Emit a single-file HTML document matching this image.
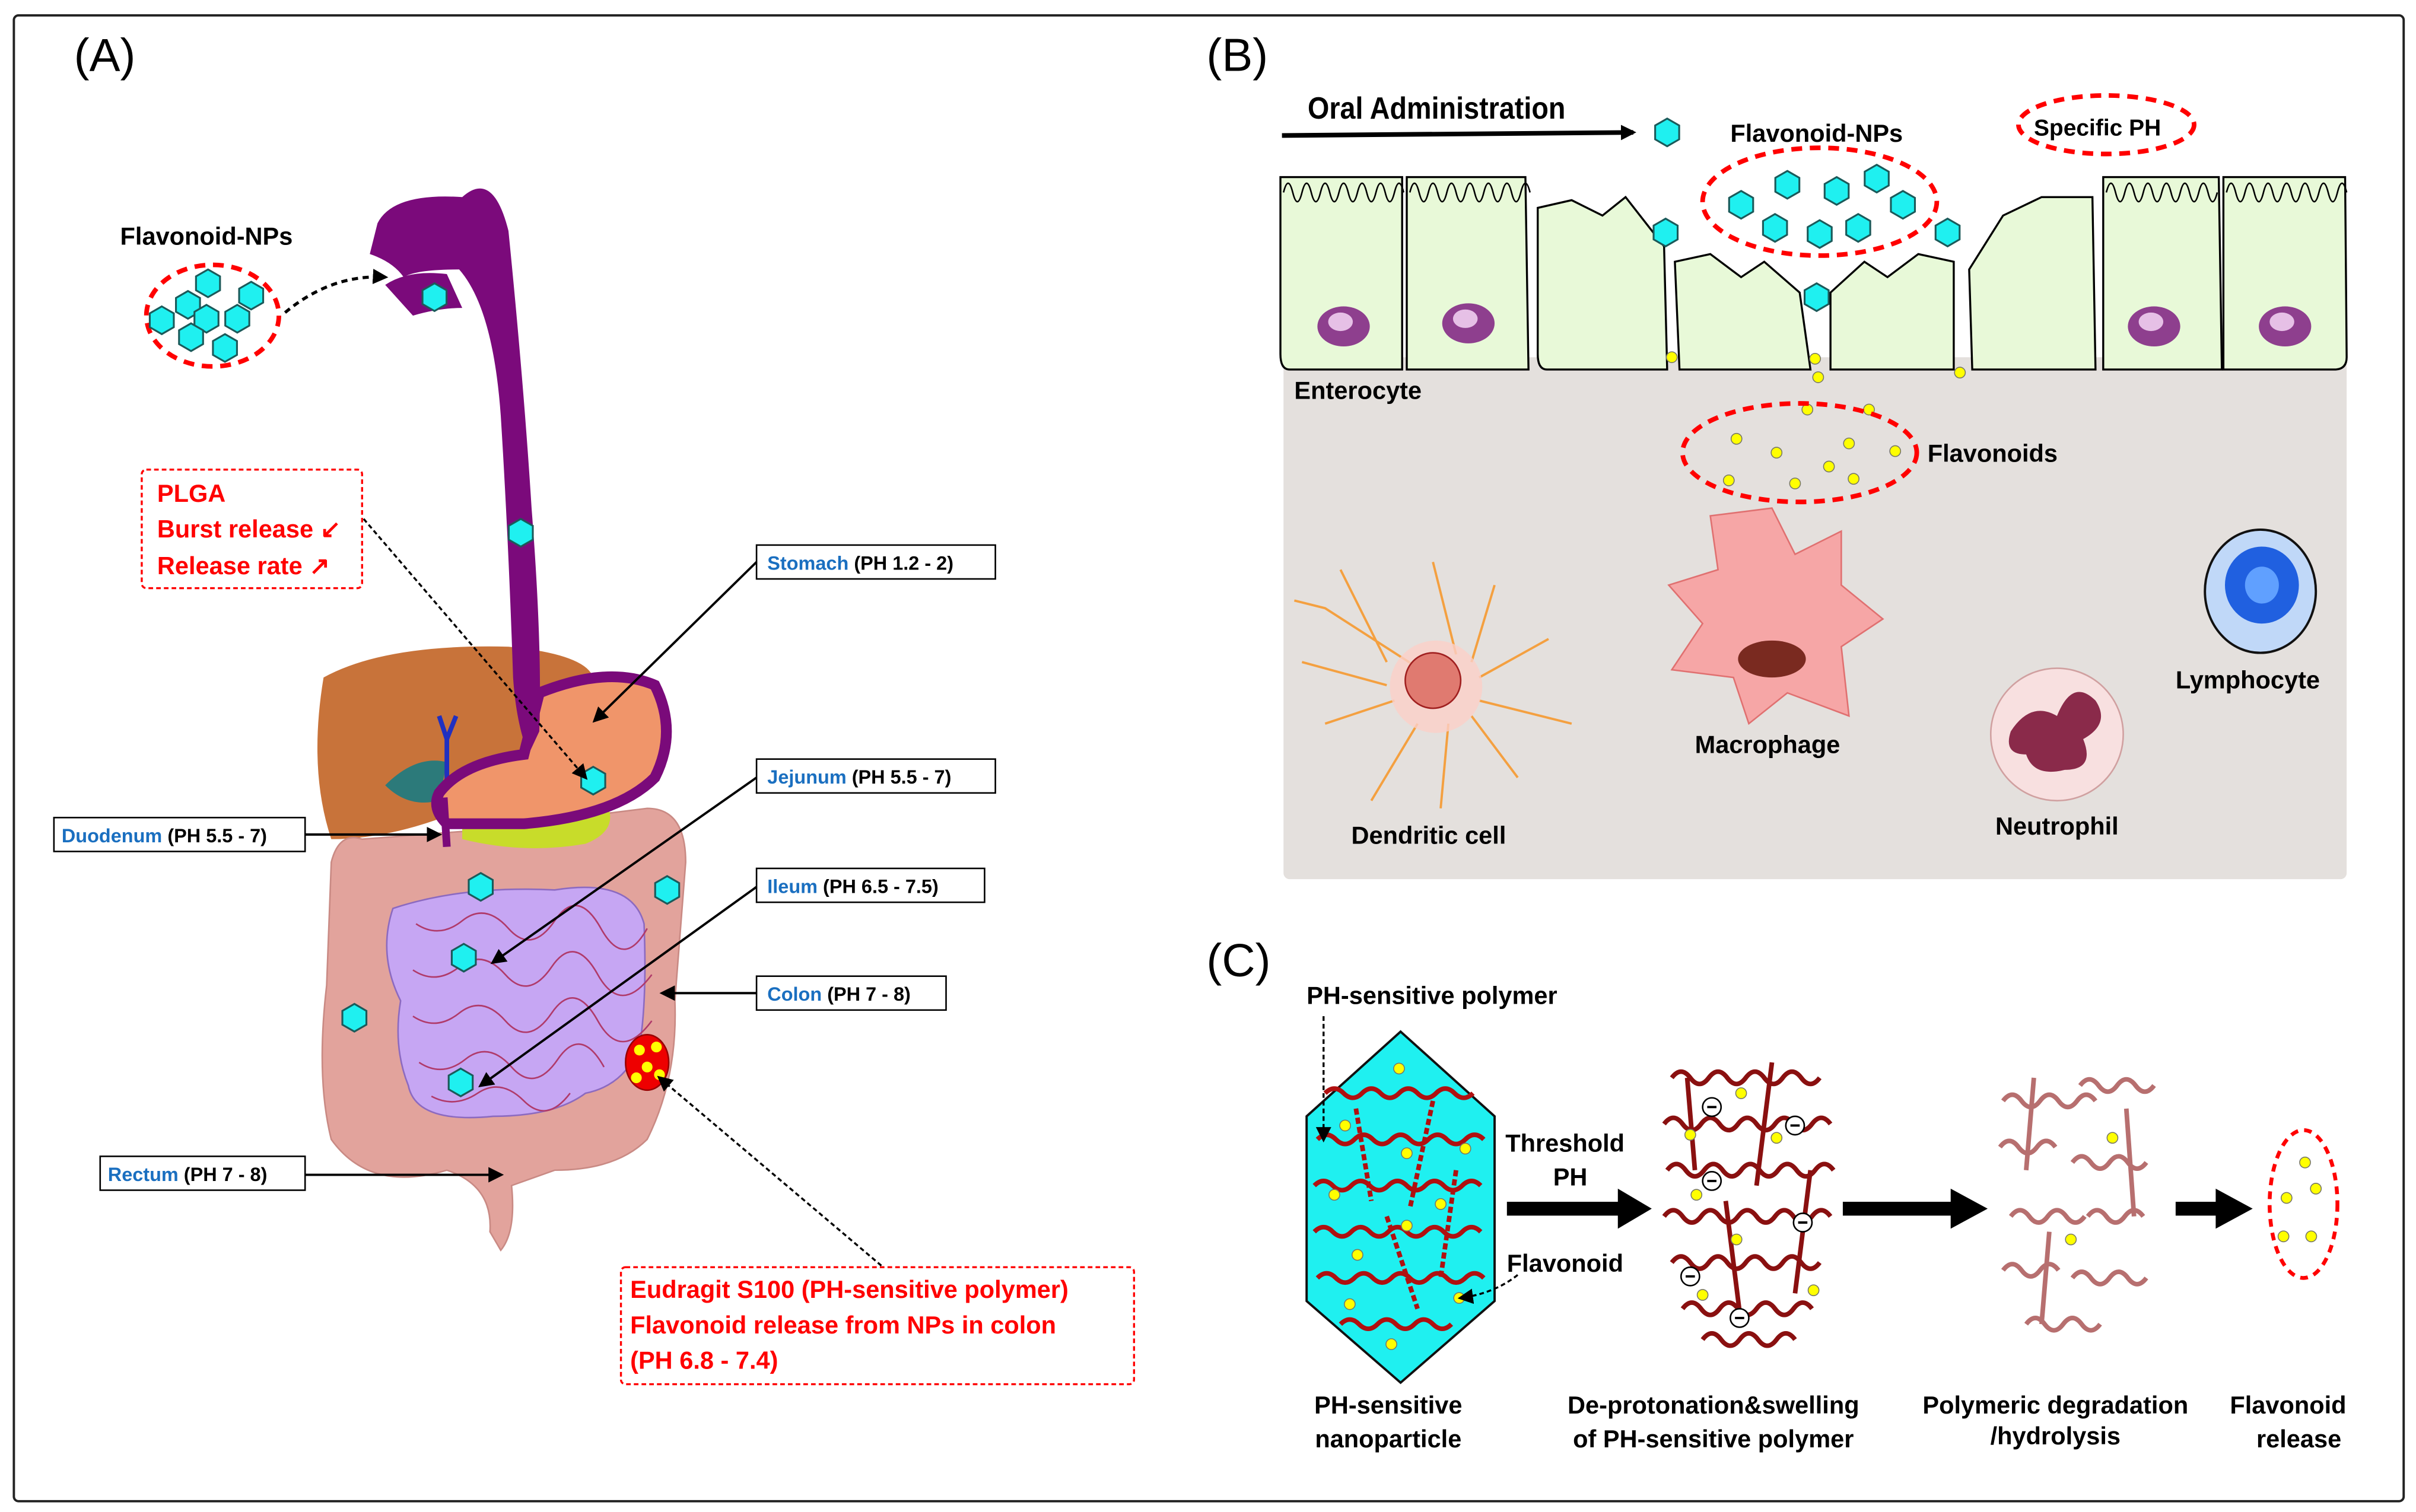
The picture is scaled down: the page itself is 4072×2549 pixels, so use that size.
<!DOCTYPE html>
<html><head><meta charset="utf-8"><style>html,body{margin:0;padding:0;background:#fff}svg{display:block}text{font-family:"Liberation Sans",sans-serif;font-weight:bold}</style></head><body>
<svg width="4072" height="2549" viewBox="0 0 1568 982" preserveAspectRatio="none" xmlns="http://www.w3.org/2000/svg">
<defs>
<symbol id="hx" viewBox="-10 -10 20 20" overflow="visible"><polygon points="0,-9 7.8,-4.5 7.8,4.5 0,9 -7.8,4.5 -7.8,-4.5" fill="#1ff0f0" stroke="#1b5a5a" stroke-width="1.2"/></symbol>
<marker id="ah" markerWidth="10" markerHeight="10" refX="8" refY="5" orient="auto" markerUnits="userSpaceOnUse"><path d="M0,0 L10,5 L0,10 z" fill="#000"/></marker>
</defs>
<rect x="0" y="0" width="1568" height="982" fill="#fff"/>
<rect x="9" y="10" width="1551" height="965" fill="none" stroke="#222" stroke-width="1.5" rx="3"/>

<!-- ===== PANEL A ===== -->
<text x="48" y="46" font-size="30" font-weight="normal" style="font-weight:normal">(A)</text>
<text x="78" y="159" font-size="16">Flavonoid-NPs</text>
<ellipse cx="138" cy="205" rx="43" ry="33" fill="none" stroke="#f00" stroke-width="3" stroke-dasharray="7,5"/>
<g>
<use href="#hx" x="135" y="184" width="20" height="20" transform="translate(-10,-10)"/>
<use href="#hx" x="122" y="198" width="20" height="20" transform="translate(-10,-10)"/>
<use href="#hx" x="163" y="192" width="20" height="20" transform="translate(-10,-10)"/>
<use href="#hx" x="105" y="208" width="20" height="20" transform="translate(-10,-10)"/>
<use href="#hx" x="134" y="207" width="20" height="20" transform="translate(-10,-10)"/>
<use href="#hx" x="154" y="207" width="20" height="20" transform="translate(-10,-10)"/>
<use href="#hx" x="124" y="219" width="20" height="20" transform="translate(-10,-10)"/>
<use href="#hx" x="146" y="226" width="20" height="20" transform="translate(-10,-10)"/>
</g>
<path d="M185,203 Q215,178 250,180" fill="none" stroke="#000" stroke-width="2" stroke-dasharray="4,3" marker-end="url(#ah)"/>

<!-- liver -->
<path d="M210,440 Q250,418 330,420 Q380,425 385,440 L370,470 Q320,500 290,530 Q250,545 215,545 Q200,500 210,440 z" fill="#c8733a"/>
<path d="M250,510 Q270,490 290,495 L285,520 Q265,525 250,510z" fill="#2c7a7a"/>
<path d="M285,465 L290,480 L296,465 M290,480 L290,530" stroke="#2030c0" stroke-width="3" fill="none"/>
<!-- large intestine -->
<path d="M235,545 Q220,540 215,560 L212,640 Q205,700 215,740 Q240,775 290,760 Q320,770 318,800 L325,812 Q335,800 332,770 L360,760 Q400,760 420,740 Q440,700 438,650 L445,560 Q445,525 420,525 L300,540 Z" fill="#e2a39c" stroke="#c98a84" stroke-width="1"/>
<!-- small intestine -->
<path d="M255,590 Q300,575 360,578 Q410,570 418,600 Q420,650 415,680 Q405,705 380,710 Q360,725 320,725 Q270,730 265,705 Q255,680 260,650 Q245,620 255,590z" fill="#c6a6f3" stroke="#8c6ac0" stroke-width="1"/>
<g stroke="#b03a6a" stroke-width="1" fill="none">
<path d="M270,600 q15,10 30,-2 t30,5 t30,-5 t30,5 t30,0"/>
<path d="M268,630 q15,10 30,-2 t30,5 t30,-5 t30,5 t35,0"/>
<path d="M268,660 q15,10 30,-2 t30,5 t30,-5 t30,5 t35,0"/>
<path d="M272,690 q15,10 30,-2 t30,5 t30,-5 t30,5"/>
<path d="M280,712 q15,8 30,-2 t30,5 t30,-5"/>
</g>
<!-- pancreas -->
<path d="M300,530 Q340,520 395,525 Q400,540 380,548 Q340,555 300,545z" fill="#c8dc2a"/>
<!-- stomach -->
<path d="M350,450 Q395,432 425,445 Q440,475 425,505 Q400,530 340,535 L290,535 Q280,525 285,515 Q300,495 340,490 Z" fill="#f0956a" stroke="#7a0a7a" stroke-width="7"/>
<path d="M288,518 L290,550" stroke="#7a0a7a" stroke-width="5"/>
<!-- esophagus -->
<path d="M245,145 Q255,125 300,128 Q320,110 330,150 Q340,250 345,330 Q352,420 350,475 L343,490 Q335,470 333,440 Q330,350 325,270 Q320,200 298,175 Q270,175 262,180 Q255,170 240,165z" fill="#7b0a7b"/>
<path d="M250,185 Q265,175 290,178 L300,200 Q285,200 268,205z" fill="#7b0a7b"/>
<!-- red colon blob -->
<ellipse cx="420" cy="690" rx="14" ry="18" fill="#e00" stroke="#900"/>
<circle cx="415" cy="682" r="3.5" fill="#ff0"/><circle cx="426" cy="680" r="3.5" fill="#ff0"/><circle cx="420" cy="693" r="3.5" fill="#ff0"/><circle cx="413" cy="700" r="3.5" fill="#ff0"/><circle cx="428" cy="698" r="3.5" fill="#ff0"/>
<!-- hexagons in GI -->
<use href="#hx" x="282" y="193" width="20" height="20" transform="translate(-10,-10)"/>
<use href="#hx" x="338" y="346" width="20" height="20" transform="translate(-10,-10)"/>
<use href="#hx" x="385" y="507" width="20" height="20" transform="translate(-10,-10)"/>
<use href="#hx" x="312" y="576" width="20" height="20" transform="translate(-10,-10)"/>
<use href="#hx" x="433" y="578" width="20" height="20" transform="translate(-10,-10)"/>
<use href="#hx" x="301" y="622" width="20" height="20" transform="translate(-10,-10)"/>
<use href="#hx" x="230" y="661" width="20" height="20" transform="translate(-10,-10)"/>
<use href="#hx" x="299" y="703" width="20" height="20" transform="translate(-10,-10)"/>

<!-- PLGA box -->
<rect x="92" y="305" width="143" height="77" fill="#fff" stroke="#f00" stroke-width="1.3" stroke-dasharray="3,2" rx="3"/>
<text x="102" y="326" font-size="16" fill="#f00">PLGA</text>
<text x="102" y="349" font-size="16" fill="#f00">Burst release ↙</text>
<text x="102" y="373" font-size="16" fill="#f00">Release rate ↗</text>
<path d="M236,337 L380,505" stroke="#000" stroke-width="1.3" stroke-dasharray="3,2" marker-end="url(#ah)"/>

<!-- labels -->
<g font-size="12.5">
<rect x="491" y="354" width="155" height="22" fill="#fff" stroke="#000"/>
<text x="498" y="370"><tspan fill="#1a6fc0">Stomach</tspan> (PH 1.2 - 2)</text>
<rect x="491" y="493" width="155" height="22" fill="#fff" stroke="#000"/>
<text x="498" y="509"><tspan fill="#1a6fc0">Jejunum</tspan> (PH 5.5 - 7)</text>
<rect x="491" y="564" width="148" height="22" fill="#fff" stroke="#000"/>
<text x="498" y="580"><tspan fill="#1a6fc0">Ileum</tspan> (PH 6.5 - 7.5)</text>
<rect x="491" y="634" width="123" height="22" fill="#fff" stroke="#000"/>
<text x="498" y="650"><tspan fill="#1a6fc0">Colon</tspan> (PH 7 - 8)</text>
<rect x="35" y="531" width="163" height="22" fill="#fff" stroke="#000"/>
<text x="40" y="547"><tspan fill="#1a6fc0">Duodenum</tspan> (PH 5.5 - 7)</text>
<rect x="65" y="751" width="133" height="22" fill="#fff" stroke="#000"/>
<text x="70" y="767"><tspan fill="#1a6fc0">Rectum</tspan> (PH 7 - 8)</text>
</g>
<g stroke="#000" stroke-width="1.5" fill="none" marker-end="url(#ah)">
<path d="M491,365 L386,468"/>
<path d="M491,505 L320,625"/>
<path d="M491,576 L312,705"/>
<path d="M491,645 L430,645"/>
<path d="M198,542 L285,542"/>
<path d="M198,763 L325,763"/>
</g>
<rect x="403" y="823" width="333" height="76" fill="#fff" stroke="#f00" stroke-width="1.3" stroke-dasharray="3,2" rx="3"/>
<text x="409" y="843" font-size="16" fill="#f00">Eudragit S100 (PH-sensitive polymer)</text>
<text x="409" y="866" font-size="16" fill="#f00">Flavonoid release from NPs in colon</text>
<text x="409" y="889" font-size="16" fill="#f00">(PH 6.8 - 7.4)</text>
<path d="M572,822 L428,700" stroke="#000" stroke-width="1.3" stroke-dasharray="3,2" fill="none" marker-end="url(#ah)"/>

<!-- ===== PANEL B ===== -->
<text x="783" y="46" font-size="30" style="font-weight:normal">(B)</text>
<rect x="833" y="232" width="690" height="339" fill="#e4e0dd" rx="4"/>
<text x="849" y="77" font-size="20" transform="scale(0.9,1) translate(94,0)">Oral Administration</text>
<path d="M832,88 L1060,86" stroke="#000" stroke-width="3" marker-end="url(#ah)"/>
<use href="#hx" x="1082" y="86" width="20" height="20" transform="translate(-10,-10)"/>
<text x="1123" y="92" font-size="16">Flavonoid-NPs</text>
<ellipse cx="1367" cy="81" rx="57" ry="19" fill="none" stroke="#f00" stroke-width="3" stroke-dasharray="7,5"/>
<text x="1320" y="88" font-size="15">Specific PH</text>
<!-- cells -->
<g fill="#e8f9d8" stroke="#000" stroke-width="1.3">
<path d="M831,115 L910,115 L910,240 L837,240 Q831,240 831,230z"/>
<path d="M913,115 L990,115 L992,240 L913,240z"/>
<path d="M998,135 L1020,130 L1040,140 L1055,128 L1080,160 L1082,240 L1004,240 Q998,240 998,230z"/>
<path d="M1087,170 L1110,165 L1130,180 L1145,170 L1168,190 L1175,240 L1090,240z"/>
<path d="M1188,190 L1210,170 L1225,180 L1245,165 L1268,170 L1268,240 L1188,240z"/>
<path d="M1278,175 L1300,140 L1325,128 L1358,128 L1360,240 L1280,240z"/>
<path d="M1365,115 L1440,115 L1442,240 L1365,240z"/>
<path d="M1443,115 L1522,115 L1523,232 Q1523,240 1515,240 L1443,240z"/>
</g>
<g stroke="#000" stroke-width="1">
<path d="M833,125 q3,-12 6,0 t6,0 t6,0 t6,0 t6,0 t6,0 t6,0 t6,0 t6,0 t6,0 t6,0 t6,0 t6,0 M915,125 q3,-12 6,0 t6,0 t6,0 t6,0 t6,0 t6,0 t6,0 t6,0 t6,0 t6,0 t6,0 t6,0 t6,0" fill="none"/>
<path d="M1367,125 q3,-12 6,0 t6,0 t6,0 t6,0 t6,0 t6,0 t6,0 t6,0 t6,0 t6,0 t6,0 t6,0 M1445,125 q3,-12 6,0 t6,0 t6,0 t6,0 t6,0 t6,0 t6,0 t6,0 t6,0 t6,0 t6,0 t6,0 t6,0" fill="none"/>
</g>
<g fill="#8e3f8e">
<ellipse cx="872" cy="212" rx="17" ry="13"/><ellipse cx="953" cy="210" rx="17" ry="13"/>
<ellipse cx="1398" cy="212" rx="17" ry="13"/><ellipse cx="1483" cy="212" rx="17" ry="13"/>
</g>
<g fill="#e6c0e6"><ellipse cx="870" cy="209" rx="8" ry="6"/><ellipse cx="951" cy="207" rx="8" ry="6"/><ellipse cx="1396" cy="209" rx="8" ry="6"/><ellipse cx="1481" cy="209" rx="8" ry="6"/></g>
<ellipse cx="1181" cy="131" rx="76" ry="35" fill="none" stroke="#f00" stroke-width="3" stroke-dasharray="7,5"/>
<g>
<use href="#hx" x="1160" y="120" width="20" height="20" transform="translate(-10,-10)"/>
<use href="#hx" x="1192" y="124" width="20" height="20" transform="translate(-10,-10)"/>
<use href="#hx" x="1218" y="116" width="20" height="20" transform="translate(-10,-10)"/>
<use href="#hx" x="1130" y="133" width="20" height="20" transform="translate(-10,-10)"/>
<use href="#hx" x="1235" y="133" width="20" height="20" transform="translate(-10,-10)"/>
<use href="#hx" x="1152" y="148" width="20" height="20" transform="translate(-10,-10)"/>
<use href="#hx" x="1181" y="152" width="20" height="20" transform="translate(-10,-10)"/>
<use href="#hx" x="1206" y="148" width="20" height="20" transform="translate(-10,-10)"/>
<use href="#hx" x="1081" y="151" width="20" height="20" transform="translate(-10,-10)"/>
<use href="#hx" x="1264" y="151" width="20" height="20" transform="translate(-10,-10)"/>
<use href="#hx" x="1179" y="193" width="20" height="20" transform="translate(-10,-10)"/>
</g>
<g fill="#ff0" stroke="#776" stroke-width="0.6">
<circle cx="1085" cy="232" r="3.5"/><circle cx="1178" cy="233" r="3.5"/><circle cx="1180" cy="245" r="3.5"/><circle cx="1272" cy="242" r="3.5"/>
<circle cx="1173" cy="266" r="3.5"/><circle cx="1213" cy="266" r="3.5"/><circle cx="1127" cy="285" r="3.5"/><circle cx="1153" cy="294" r="3.5"/>
<circle cx="1200" cy="288" r="3.5"/><circle cx="1187" cy="303" r="3.5"/><circle cx="1230" cy="293" r="3.5"/><circle cx="1122" cy="312" r="3.5"/>
<circle cx="1165" cy="314" r="3.5"/><circle cx="1203" cy="311" r="3.5"/>
</g>
<ellipse cx="1168" cy="294" rx="76" ry="32" fill="none" stroke="#f00" stroke-width="3" stroke-dasharray="7,5"/>
<text x="840" y="259" font-size="16">Enterocyte</text>
<text x="1251" y="300" font-size="16">Flavonoids</text>
<!-- dendritic cell -->
<g stroke="#f4a040" stroke-width="1.5" fill="none">
<path d="M930,440 L860,395 L840,390 M900,430 L870,370 M945,425 L930,365 M955,430 L970,380 M960,440 L1005,415 M960,455 L1020,470 M955,465 L985,505 M940,470 L935,525 M920,470 L890,520 M905,455 L860,470 M900,445 L845,430"/>
</g>
<circle cx="932" cy="446" r="30" fill="#fbd0c8" opacity="0.8"/>
<circle cx="930" cy="442" r="18" fill="#e07a70" stroke="#a02020"/>
<text x="877" y="548" font-size="16">Dendritic cell</text>
<!-- macrophage -->
<path d="M1150,330 L1165,360 L1195,345 L1195,380 L1222,402 L1195,420 L1200,465 L1160,450 L1135,470 L1125,440 L1085,435 L1105,405 L1083,380 L1115,370 L1110,335 Z" fill="#f6a6a6" stroke="#e07070"/>
<ellipse cx="1150" cy="428" rx="22" ry="12" fill="#7a2a20"/>
<text x="1100" y="489" font-size="16">Macrophage</text>
<!-- neutrophil -->
<circle cx="1335" cy="477" r="43" fill="#f8e0e0" stroke="#d0a0a0"/>
<path d="M1305,475 Q1318,455 1335,465 Q1345,440 1360,455 Q1370,470 1352,480 Q1360,500 1340,500 Q1320,505 1315,490 Q1300,490 1305,475z" fill="#8a2a4a"/>
<text x="1295" y="542" font-size="16">Neutrophil</text>
<!-- lymphocyte -->
<ellipse cx="1467" cy="384" rx="36" ry="40" fill="#c0d8f8" stroke="#111" stroke-width="1.5"/>
<ellipse cx="1468" cy="380" rx="24" ry="25" fill="#2060e0"/>
<ellipse cx="1468" cy="380" rx="11" ry="12" fill="#60a0ff"/>
<text x="1412" y="447" font-size="16">Lymphocyte</text>

<!-- ===== PANEL C ===== -->
<text x="783" y="634" font-size="30" style="font-weight:normal">(C)</text>
<text x="848" y="652" font-size="16">PH-sensitive polymer</text>
<polygon points="909,670 970,725 970,845 909,898 848,845 848,725" fill="#1ff0f0" stroke="#111" stroke-width="1.5"/>
<g stroke="#b01010" stroke-width="3" fill="none">
<path d="M860,710 q6,-6 12,0 t12,0 t12,0 t12,0 t12,0 t12,0 t12,0 t12,0"/>
<path d="M855,740 q6,-6 12,0 t12,0 t12,0 t12,0 t12,0 t12,0 t12,0 t12,0 t12,0"/>
<path d="M853,770 q6,-6 12,0 t12,0 t12,0 t12,0 t12,0 t12,0 t12,0 t12,0 t12,0"/>
<path d="M853,800 q6,-6 12,0 t12,0 t12,0 t12,0 t12,0 t12,0 t12,0 t12,0 t12,0"/>
<path d="M855,830 q6,-6 12,0 t12,0 t12,0 t12,0 t12,0 t12,0 t12,0 t12,0 t12,0"/>
<path d="M870,860 q6,-6 12,0 t12,0 t12,0 t12,0 t12,0 t12,0"/>
<path d="M880,720 l10,60 M930,715 l-15,70 M900,790 l20,60 M945,760 l-10,70" stroke-dasharray="4,2"/>
</g>
<g fill="#ff0" stroke="#776" stroke-width="0.6">
<circle cx="908" cy="694" r="3.5"/><circle cx="873" cy="731" r="3.5"/><circle cx="913" cy="749" r="3.5"/><circle cx="951" cy="746" r="3.5"/><circle cx="866" cy="776" r="3.5"/><circle cx="935" cy="782" r="3.5"/><circle cx="913" cy="796" r="3.5"/><circle cx="881" cy="815" r="3.5"/><circle cx="947" cy="843" r="3.5"/><circle cx="876" cy="847" r="3.5"/><circle cx="903" cy="873" r="3.5"/>
</g>
<path d="M859,660 L859,740" stroke="#000" stroke-width="1.3" stroke-dasharray="3,2" marker-end="url(#ah)"/>
<path d="M985,828 Q970,840 948,843" stroke="#000" stroke-width="1.3" stroke-dasharray="3,2" fill="none" marker-end="url(#ah)"/>
<text x="977" y="748" font-size="16">Threshold</text>
<text x="1008" y="770" font-size="16">PH</text>
<text x="978" y="826" font-size="16">Flavonoid</text>
<path d="M978,785 L1055,785" stroke="#000" stroke-width="9"/><polygon points="1050,772 1072,785 1050,798" fill="#000"/>
<!-- swollen polymer -->
<g stroke="#8a1010" stroke-width="3" fill="none">
<path d="M1085,700 q6,-8 12,0 t12,0 t12,0 t12,0 t12,0 t12,0 t12,0 t12,0"/>
<path d="M1080,730 q6,-8 12,0 t12,0 t12,0 t12,0 t12,0 t12,0 t12,0 t12,0 t12,0"/>
<path d="M1082,760 q6,-8 12,0 t12,0 t12,0 t12,0 t12,0 t12,0 t12,0 t12,0 t12,0"/>
<path d="M1080,790 q6,-8 12,0 t12,0 t12,0 t12,0 t12,0 t12,0 t12,0 t12,0 t12,0"/>
<path d="M1085,820 q6,-8 12,0 t12,0 t12,0 t12,0 t12,0 t12,0 t12,0 t12,0"/>
<path d="M1092,850 q6,-8 12,0 t12,0 t12,0 t12,0 t12,0 t12,0 t12,0"/>
<path d="M1105,870 q6,-8 12,0 t12,0 t12,0 t12,0 t12,0"/>
<path d="M1095,700 l5,60 M1150,690 l-10,80 M1120,780 l10,80 M1175,760 l-10,80"/>
</g>
<g fill="#fff" stroke="#000" stroke-width="1">
<circle cx="1111" cy="719" r="6"/><circle cx="1165" cy="731" r="6"/><circle cx="1111" cy="767" r="6"/><circle cx="1170" cy="794" r="6"/><circle cx="1097" cy="829" r="6"/><circle cx="1129" cy="856" r="6"/>
</g>
<g stroke="#000" stroke-width="1.5"><path d="M1108,719h6M1162,731h6M1108,767h6M1167,794h6M1094,829h6M1126,856h6"/></g>
<g fill="#ff0" stroke="#776" stroke-width="0.6">
<circle cx="1130" cy="710" r="3.5"/><circle cx="1097" cy="737" r="3.5"/><circle cx="1153" cy="739" r="3.5"/><circle cx="1101" cy="776" r="3.5"/><circle cx="1127" cy="805" r="3.5"/><circle cx="1105" cy="841" r="3.5"/><circle cx="1177" cy="838" r="3.5"/>
</g>
<path d="M1196,785 L1270,785" stroke="#000" stroke-width="9"/><polygon points="1266,772 1290,785 1266,798" fill="#000"/>
<!-- degraded -->
<g stroke="#a04040" stroke-width="3" fill="none" opacity="0.75">
<path d="M1300,715 q6,-8 12,0 t12,0 t12,0 t12,0 t12,0"/>
<path d="M1350,705 q6,-8 12,0 t12,0 t12,0 t12,0"/>
<path d="M1298,745 q6,-8 12,0 t12,0 t12,0"/>
<path d="M1345,755 q6,-8 12,0 t12,0 t12,0 t12,0"/>
<path d="M1305,790 q6,-8 12,0 t12,0 t12,0 t12,0"/>
<path d="M1355,790 q6,-8 12,0 t12,0 t12,0"/>
<path d="M1300,825 q6,-8 12,0 t12,0 t12,0"/>
<path d="M1345,830 q6,-8 12,0 t12,0 t12,0 t12,0"/>
<path d="M1315,860 q6,-8 12,0 t12,0 t12,0 t12,0"/>
<path d="M1320,700 l-5,60 M1380,720 l5,70 M1330,800 l-5,60"/>
</g>
<g fill="#ff0" stroke="#776" stroke-width="0.6"><circle cx="1371" cy="739" r="3.5"/><circle cx="1344" cy="805" r="3.5"/></g>
<path d="M1412,785 L1442,785" stroke="#000" stroke-width="9"/><polygon points="1438,772 1462,785 1438,798" fill="#000"/>
<ellipse cx="1495" cy="782" rx="22" ry="48" fill="none" stroke="#f00" stroke-width="2.5" stroke-dasharray="5,4"/>
<g fill="#ff0" stroke="#776" stroke-width="0.6"><circle cx="1496" cy="755" r="3.5"/><circle cx="1484" cy="778" r="3.5"/><circle cx="1503" cy="772" r="3.5"/><circle cx="1482" cy="803" r="3.5"/><circle cx="1500" cy="803" r="3.5"/></g>
<g font-size="16" text-anchor="middle">
<text x="901" y="918">PH-sensitive</text><text x="901" y="940">nanoparticle</text>
<text x="1112" y="918">De-protonation&amp;swelling</text><text x="1112" y="940">of PH-sensitive polymer</text>
<text x="1334" y="918">Polymeric degradation</text><text x="1334" y="938">/hydrolysis</text>
<text x="1485" y="918">Flavonoid</text><text x="1492" y="940">release</text>
</g>
</svg>
</body></html>
